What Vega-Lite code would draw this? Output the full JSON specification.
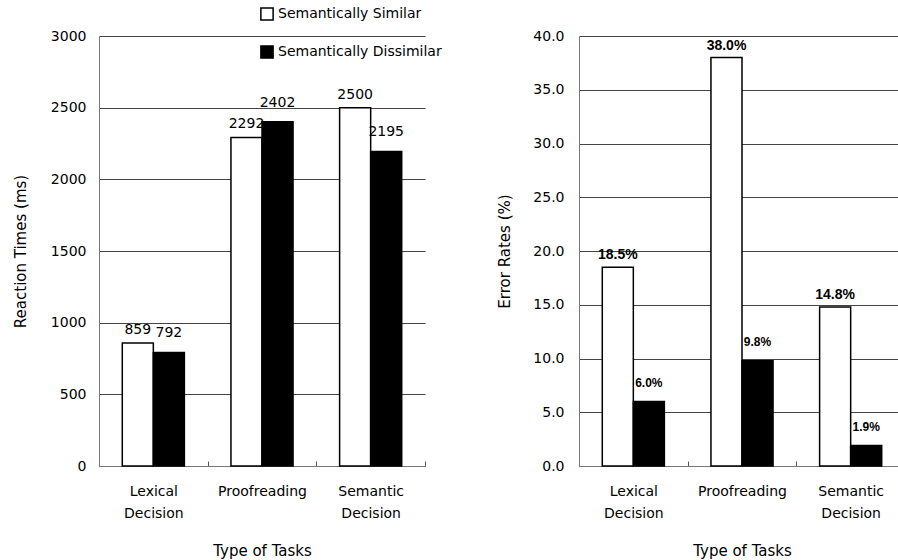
{
  "$schema": "https://vega.github.io/schema/vega-lite/v6.json",
  "padding": {"left": 13, "top": 7, "right": 0, "bottom": 5},
  "background": "white",
  "bounds": "flush",
  "spacing": 154,
  "datasets": {
    "rt": [
      {"task": "Lexical Decision", "condition": "Semantically Similar", "ms": 859},
      {"task": "Lexical Decision", "condition": "Semantically Dissimilar", "ms": 792},
      {"task": "Proofreading", "condition": "Semantically Similar", "ms": 2292},
      {"task": "Proofreading", "condition": "Semantically Dissimilar", "ms": 2402},
      {"task": "Semantic Decision", "condition": "Semantically Similar", "ms": 2500},
      {"task": "Semantic Decision", "condition": "Semantically Dissimilar", "ms": 2195}
    ],
    "er": [
      {"task": "Lexical Decision", "condition": "Semantically Similar", "rate": 18.5},
      {"task": "Lexical Decision", "condition": "Semantically Dissimilar", "rate": 6.0},
      {"task": "Proofreading", "condition": "Semantically Similar", "rate": 38.0},
      {"task": "Proofreading", "condition": "Semantically Dissimilar", "rate": 9.8},
      {"task": "Semantic Decision", "condition": "Semantically Similar", "rate": 14.8},
      {"task": "Semantic Decision", "condition": "Semantically Dissimilar", "rate": 1.9}
    ]
  },
  "hconcat": [
    {
      "width": 326,
      "height": 430,
      "data": {"name": "rt"},
      "encoding": {
        "x": {
          "field": "task", "type": "nominal",
          "sort": ["Lexical Decision", "Proofreading", "Semantic Decision"],
          "scale": {"paddingInner": 0, "paddingOuter": 0},
          "title": "Type of Tasks",
          "axis": {"labelAngle": 0, "labelExpr": "datum.value ? split(datum.value, ' ') : ''", "tickBand": "extent", "tickSize": -5, "labelPadding": 23, "labelLineHeight": 22, "titlePadding": 23}
        },
        "xOffset": {
          "field": "condition", "type": "nominal",
          "sort": ["Semantically Similar", "Semantically Dissimilar"],
          "scale": {"paddingInner": 0, "paddingOuter": 0.75}
        },
        "y": {
          "field": "ms", "type": "quantitative",
          "scale": {"domain": [0, 3000]},
          "title": "Reaction Times (ms)",
          "axis": {"values": [0, 500, 1000, 1500, 2000, 2500, 3000], "format": "d", "ticks": false, "labelPadding": 13, "titlePadding": 22}
        }
      },
      "layer": [
        {
          "mark": {"type": "bar", "stroke": "black", "strokeWidth": 1.5},
          "encoding": {
            "fill": {
              "field": "condition", "type": "nominal",
              "scale": {"domain": ["Semantically Similar", "Semantically Dissimilar"], "range": ["white", "black"]},
              "legend": {"orient": "none", "legendX": 161, "legendY": -29, "title": null, "symbolType": "square", "symbolSize": 150, "symbolStrokeColor": "black", "symbolStrokeWidth": 1.5, "labelFontSize": 14, "labelFont": "DejaVu Sans", "labelColor": "black", "labelLimit": 400, "rowPadding": 18, "labelOffset": 4}
            }
          }
        },
        {
          "transform": [{"filter": "datum.condition == 'Semantically Similar'"}],
          "mark": {"type": "text", "baseline": "bottom", "dy": -6, "fontSize": 14, "font": "DejaVu Sans"},
          "encoding": {"text": {"field": "ms", "type": "quantitative", "format": "d"}}
        },
        {
          "transform": [{"filter": "datum.condition == 'Semantically Dissimilar'"}],
          "mark": {"type": "text", "baseline": "bottom", "dy": -12, "fontSize": 14, "font": "DejaVu Sans"},
          "encoding": {"text": {"field": "ms", "type": "quantitative", "format": "d"}}
        }
      ]
    },
    {
      "width": 326,
      "height": 430,
      "data": {"name": "er"},
      "encoding": {
        "x": {
          "field": "task", "type": "nominal",
          "sort": ["Lexical Decision", "Proofreading", "Semantic Decision"],
          "scale": {"paddingInner": 0, "paddingOuter": 0},
          "title": "Type of Tasks",
          "axis": {"labelAngle": 0, "labelExpr": "datum.value ? split(datum.value, ' ') : ''", "tickBand": "extent", "tickSize": -5, "labelPadding": 23, "labelLineHeight": 22, "titlePadding": 23}
        },
        "xOffset": {
          "field": "condition", "type": "nominal",
          "sort": ["Semantically Similar", "Semantically Dissimilar"],
          "scale": {"paddingInner": 0, "paddingOuter": 0.75}
        },
        "y": {
          "field": "rate", "type": "quantitative",
          "scale": {"domain": [0, 40]},
          "title": "Error Rates (%)",
          "axis": {"values": [0, 5, 10, 15, 20, 25, 30, 35, 40], "format": ".1f", "ticks": false, "labelPadding": 15, "titlePadding": 20}
        }
      },
      "layer": [
        {
          "mark": {"type": "bar", "stroke": "black", "strokeWidth": 1.5},
          "encoding": {
            "fill": {"field": "condition", "type": "nominal"}
          }
        },
        {
          "transform": [{"filter": "datum.condition == 'Semantically Similar'"}],
          "mark": {"type": "text", "baseline": "bottom", "dy": -5, "fontSize": 14, "fontWeight": "bold", "font": "Liberation Sans", "text": {"expr": "format(datum.rate, '.1f') + '%'"}},
          "encoding": {}
        },
        {
          "transform": [{"filter": "datum.condition == 'Semantically Dissimilar'"}],
          "mark": {"type": "text", "baseline": "bottom", "dy": -12, "fontSize": 12, "fontWeight": "bold", "font": "Liberation Sans", "text": {"expr": "format(datum.rate, '.1f') + '%'"}},
          "encoding": {}
        }
      ]
    }
  ],
  "config": {
    "view": {"stroke": null},
    "font": "DejaVu Sans",
    "axis": {
      "labelFont": "DejaVu Sans", "labelFontSize": 14, "labelColor": "black",
      "titleFont": "DejaVu Sans", "titleFontSize": 15, "titleFontWeight": "normal", "titleColor": "black",
      "domainColor": "#777", "gridColor": "#444", "tickColor": "#555"
    },
    "axisX": {"grid": false},
    "axisY": {"grid": true, "domain": true}
  }
}
